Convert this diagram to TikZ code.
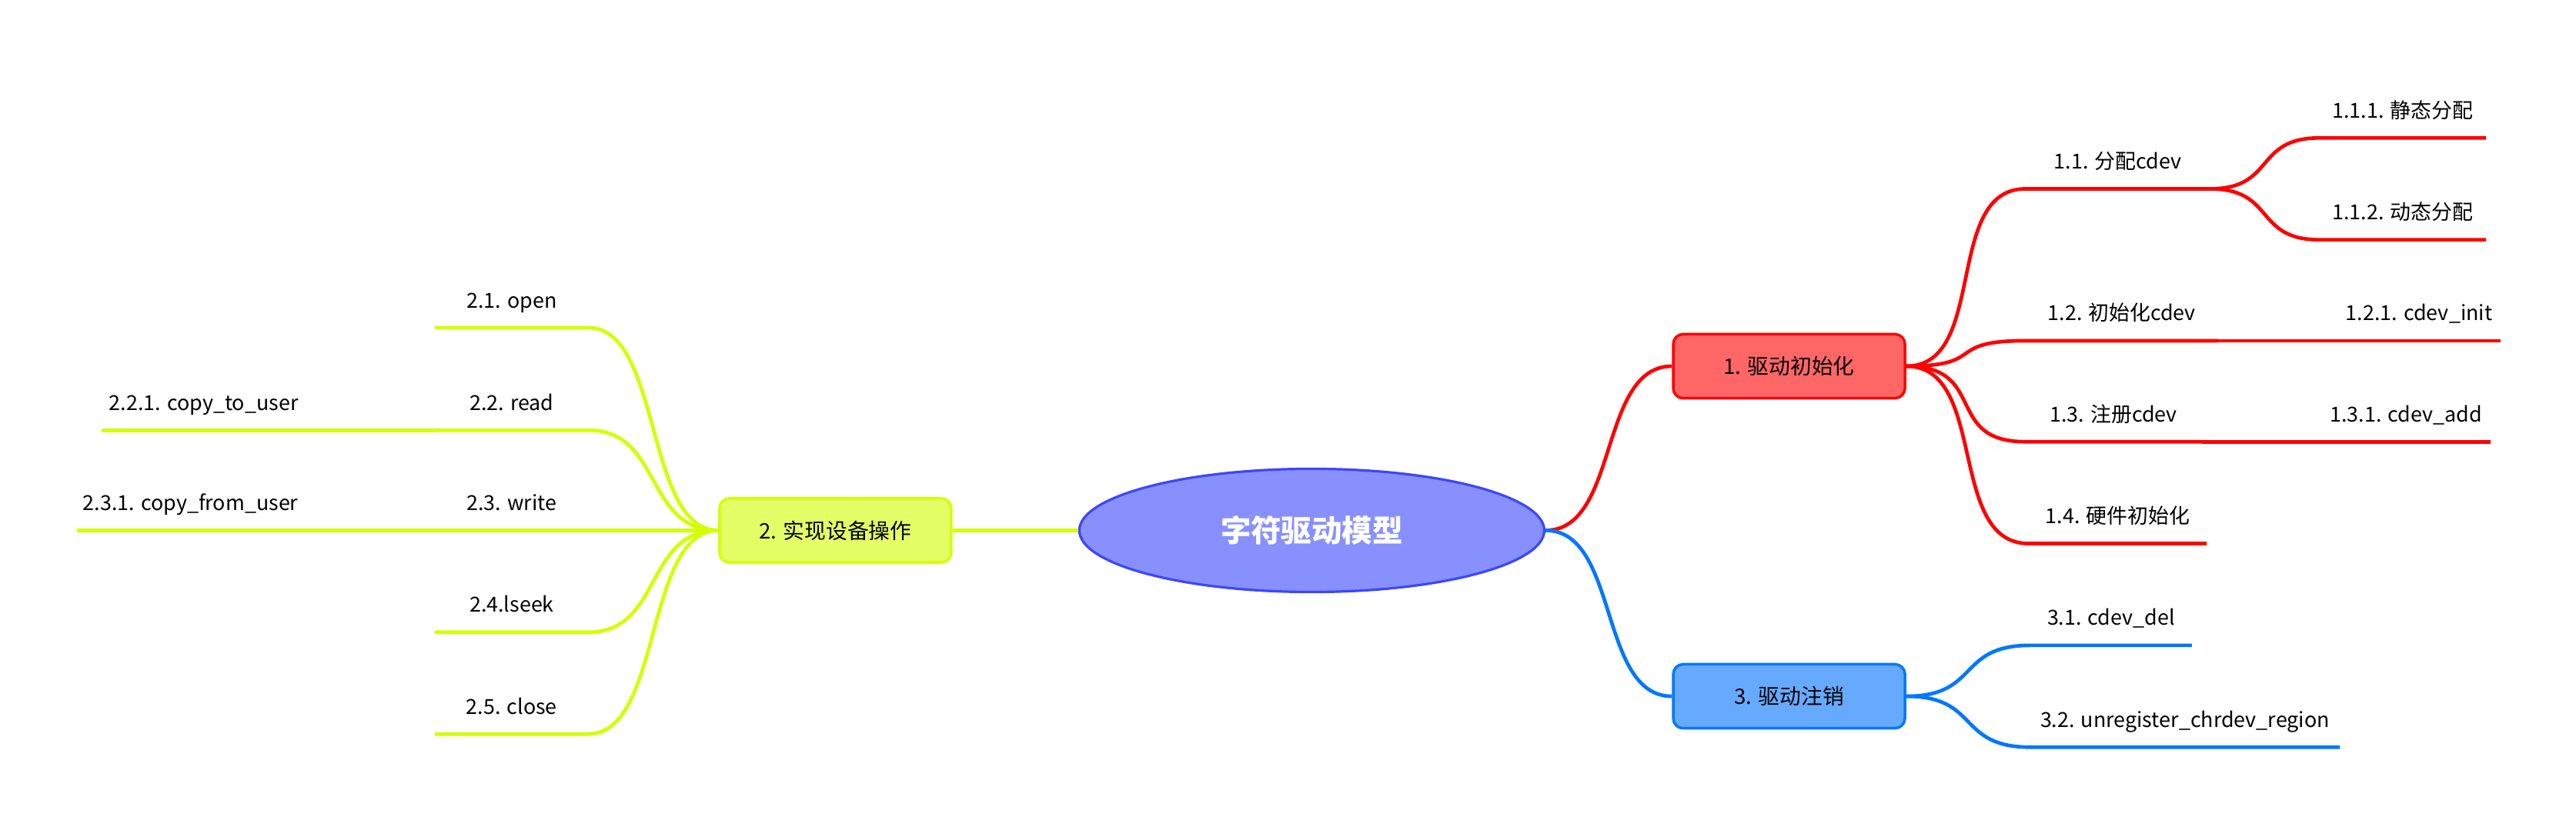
\documentclass[tikz,border=0pt]{standalone}
\usepackage{fontspec}
\usepackage{xcolor}
\usepackage{tikz}
\usetikzlibrary{shapes.geometric}
\setmainfont{Noto Sans CJK SC}
\definecolor{MapRoot}{HTML}{8890FF}
\definecolor{MapRootLine}{HTML}{3C46FF}
\definecolor{MapRed}{HTML}{FF0000}
\definecolor{MapRedFill}{HTML}{FF6666}
\definecolor{MapBlue}{HTML}{0077FF}
\definecolor{MapBlueFill}{HTML}{66AAFF}
\definecolor{MapLime}{HTML}{D4FF00}
\definecolor{MapLimeFill}{HTML}{E4FF66}
\tikzset{
  rootnode/.style={ellipse,draw=MapRootLine,fill=MapRoot,line width=1.5pt,minimum width=283pt,minimum height=75pt,inner sep=0pt,text=white,font=\fontsize{18.5}{20}\selectfont\bfseries},
  mainbox/.style={rectangle,rounded corners=6pt,line width=1.6pt,minimum width=141pt,minimum height=39pt,inner sep=0pt,font=\fontsize{13}{15}\selectfont},
  leafnode/.style={anchor=south,inner xsep=0pt,inner ysep=9pt,text height=10pt,text depth=3pt,font=\fontsize{12.6}{15}\selectfont},
  redlink/.style={line width=2.2pt,draw=MapRed},
  bluelink/.style={line width=2.2pt,draw=MapBlue},
  limelink/.style={line width=2.2pt,draw=MapLime}
}
\begin{document}
\begin{tikzpicture}[x=1pt,y=-1pt]
\useasboundingbox (0,0) rectangle (1568,503.15);
% centre and main topics
\node[rootnode] (root) at (798.5,323) {字符驱动模型};
\node[mainbox,draw=MapRed,fill=MapRedFill] (b1) at (1089,223) {1. 驱动初始化};
\node[mainbox,draw=MapLime,fill=MapLimeFill] (b2) at (508.5,323) {2. 实现设备操作};
\node[mainbox,draw=MapBlue,fill=MapBlueFill] (b3) at (1089,424) {3. 驱动注销};
% 1. subtopics
\node[leafnode,minimum width=112] (n11) at (1289,115) {1.1. 分配cdev};
\node[leafnode,minimum width=101] (n111) at (1462.5,84) {1.1.1. 静态分配};
\node[leafnode,minimum width=101] (n112) at (1462.5,146) {1.1.2. 动态分配};
\node[leafnode,minimum width=117] (n12) at (1291.5,207.5) {1.2. 初始化cdev};
\node[leafnode,minimum width=99] (n121) at (1472.5,207.5) {1.2.1. cdev\_init};
\node[leafnode,minimum width=107] (n13) at (1286.5,269) {1.3. 注册cdev};
\node[leafnode,minimum width=103] (n131) at (1464.5,269) {1.3.1. cdev\_add};
\node[leafnode,minimum width=108] (n14) at (1289,331) {1.4. 硬件初始化};
% 2. subtopics
\node[leafnode,minimum width=93] (n21) at (311.5,199.6) {2.1. open};
\node[leafnode,minimum width=93] (n22) at (311.5,262) {2.2. read};
\node[leafnode,minimum width=124] (n221) at (124,262) {2.2.1. copy\_to\_user};
\node[leafnode,minimum width=93] (n23) at (311.5,323) {2.3. write};
\node[leafnode,minimum width=138] (n231) at (116,323) {2.3.1. copy\_from\_user};
\node[leafnode,minimum width=93] (n24) at (311.5,385) {2.4.lseek};
\node[leafnode,minimum width=93] (n25) at (311.5,447) {2.5. close};
% 3. subtopics
\node[leafnode,minimum width=98] (n31) at (1285,393) {3.1. cdev\_del};
\node[leafnode,minimum width=188] (n32) at (1330,455) {3.2. unregister\_chrdev\_region};
% links
\draw[redlink] (root.east) .. controls +(45,0) and +(-45,0) .. (b1.west);
\draw[bluelink] (root.east) .. controls +(45,0) and +(-45,0) .. (b3.west);
\draw[limelink] (root.west) -- (b2.east);
\draw[redlink] (b1.east) .. controls +(50,0) and +(-50,0) .. (n11.south west) -- (n11.south east);
\draw[redlink] (n11.south east) .. controls +(40,0) and +(-40,0) .. (n111.south west) -- (n111.south east);
\draw[redlink] (n11.south east) .. controls +(40,0) and +(-40,0) .. (n112.south west) -- (n112.south east);
\draw[redlink] (b1.east) .. controls +(50,0) and +(-50,0) .. (n12.south west) -- (n12.south east);
\draw[redlink] (n12.south east) -- (n121.south west) -- (n121.south east);
\draw[redlink] (b1.east) .. controls +(50,0) and +(-50,0) .. (n13.south west) -- (n13.south east);
\draw[redlink] (n13.south east) -- (n131.south west) -- (n131.south east);
\draw[redlink] (b1.east) .. controls +(50,0) and +(-50,0) .. (n14.south west) -- (n14.south east);
\draw[limelink] (b2.west) .. controls +(-45,0) and +(45,0) .. (n21.south east) -- (n21.south west);
\draw[limelink] (b2.west) .. controls +(-45,0) and +(45,0) .. (n22.south east) -- (n22.south west);
\draw[limelink] (n22.south west) -- (n221.south east) -- (n221.south west);
\draw[limelink] (b2.west) -- (n23.south east) -- (n23.south west);
\draw[limelink] (n23.south west) -- (n231.south east) -- (n231.south west);
\draw[limelink] (b2.west) .. controls +(-45,0) and +(45,0) .. (n24.south east) -- (n24.south west);
\draw[limelink] (b2.west) .. controls +(-45,0) and +(45,0) .. (n25.south east) -- (n25.south west);
\draw[bluelink] (b3.east) .. controls +(45,0) and +(-45,0) .. (n31.south west) -- (n31.south east);
\draw[bluelink] (b3.east) .. controls +(45,0) and +(-45,0) .. (n32.south west) -- (n32.south east);
\end{tikzpicture}
\end{document}
